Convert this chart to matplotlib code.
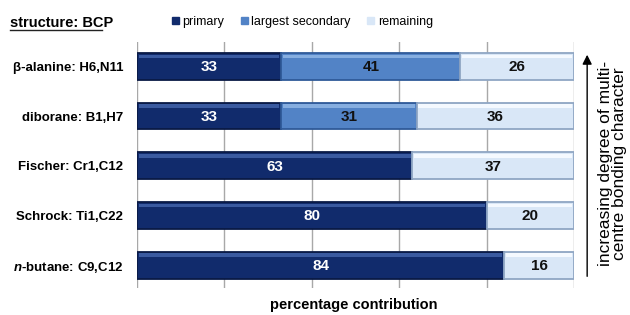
import numpy as np
import matplotlib
matplotlib.use('Agg')
import matplotlib.pyplot as plt

# data
structures = ['β-alanine: H6,N11', 'diborane: B1,H7', 'Fischer: Cr1,C12',
              'Schrock: Ti1,C22', '$n$-butane: C9,C12']
primary = [33, 33, 63, 80, 84]
secondary = [41, 31, 0, 0, 0]
remaining = [26, 36, 37, 20, 16]
series_names = ['primary', 'largest secondary', 'remaining']

colours = ['#112b6c', '#5283c6', '#d9e7f7']
edges = ['#0a1a45', '#2f5a98', '#8fa6c4']
highlights = ['#3a5aa0', '#86aee0', '#f4f9ff']
text_colours = ['white', '#111111', '#111111']

plt.rcParams['font.family'] = ['Liberation Sans', 'DejaVu Sans']
plt.rcParams['mathtext.fontset'] = 'custom'
plt.rcParams['mathtext.it'] = 'Liberation Sans:italic:bold'
plt.rcParams['mathtext.rm'] = 'Liberation Sans:bold'

fig = plt.figure(figsize=(6.3, 3.15), dpi=100)
ax = fig.add_axes([0.2175, 0.0857, 0.6937, 0.781])

y = np.arange(len(structures))
h = 0.54
left = np.zeros(len(structures))
for vals, c, ec, hc, tc, name in zip([primary, secondary, remaining], colours, edges,
                                     highlights, text_colours, series_names):
    vals = np.array(vals, dtype=float)
    ax.barh(y, vals, height=h, left=left, color=c, edgecolor=ec,
            linewidth=1.3, label=name, zorder=3)
    # top highlight for the bevelled look
    ax.barh(y - h / 2 + 0.07, np.where(vals > 0, vals - 0.8, 0), height=0.07,
            left=left + 0.4, color=hc, linewidth=0, zorder=4)
    for yi, v, l in zip(y, vals, left):
        if v > 0:
            ax.text(l + v / 2, yi + 0.02, '%d' % v, ha='center', va='center',
                    color=tc, fontsize=11, fontweight='bold', zorder=5)
    left = left + vals

ax.set_xlim(0, 100)
ax.set_ylim(len(structures) - 0.54, -0.49)
ax.set_xticks(np.arange(0, 101, 20))
ax.set_xticklabels([])
ax.tick_params(axis='x', length=0)
ax.set_yticks(y)
ax.set_yticklabels(structures, fontsize=9.5, fontweight='bold')
ax.tick_params(axis='y', length=0, pad=10)
ax.grid(axis='x', color='#a8a8a8', linewidth=1, zorder=0)
for s in ax.spines.values():
    s.set_visible(False)
fig.text(0.5615, 0.032, 'percentage contribution', ha='center', va='center',
         fontsize=10.5, fontweight='bold')

fig.text(0.016, 0.915, 'structure: BCP', fontsize=10.5, fontweight='bold')
fig.add_artist(plt.Line2D([0.016, 0.162], [0.905, 0.905], color='#222222', lw=1))

handles = [plt.Rectangle((0, 0), 1, 1, color=c) for c in colours]
fig.legend(handles, series_names, loc='center', bbox_to_anchor=(0.48, 0.93),
           ncol=3, frameon=False, fontsize=9, handlelength=0.55, handleheight=0.55,
           handletextpad=0.3, columnspacing=1.3)

# arrow and rotated note on the right
fig.add_artist(matplotlib.patches.FancyArrowPatch(
    (0.932, 0.114), (0.932, 0.835), transform=fig.transFigure,
    arrowstyle='-|>', mutation_scale=14, color='black', lw=1))
fig.text(0.972, 0.48, 'increasing degree of multi-\ncentre bonding character',
         rotation=90, ha='center', va='center', fontsize=12.5, linespacing=0.9)

fig.savefig('out.png', dpi=100)
